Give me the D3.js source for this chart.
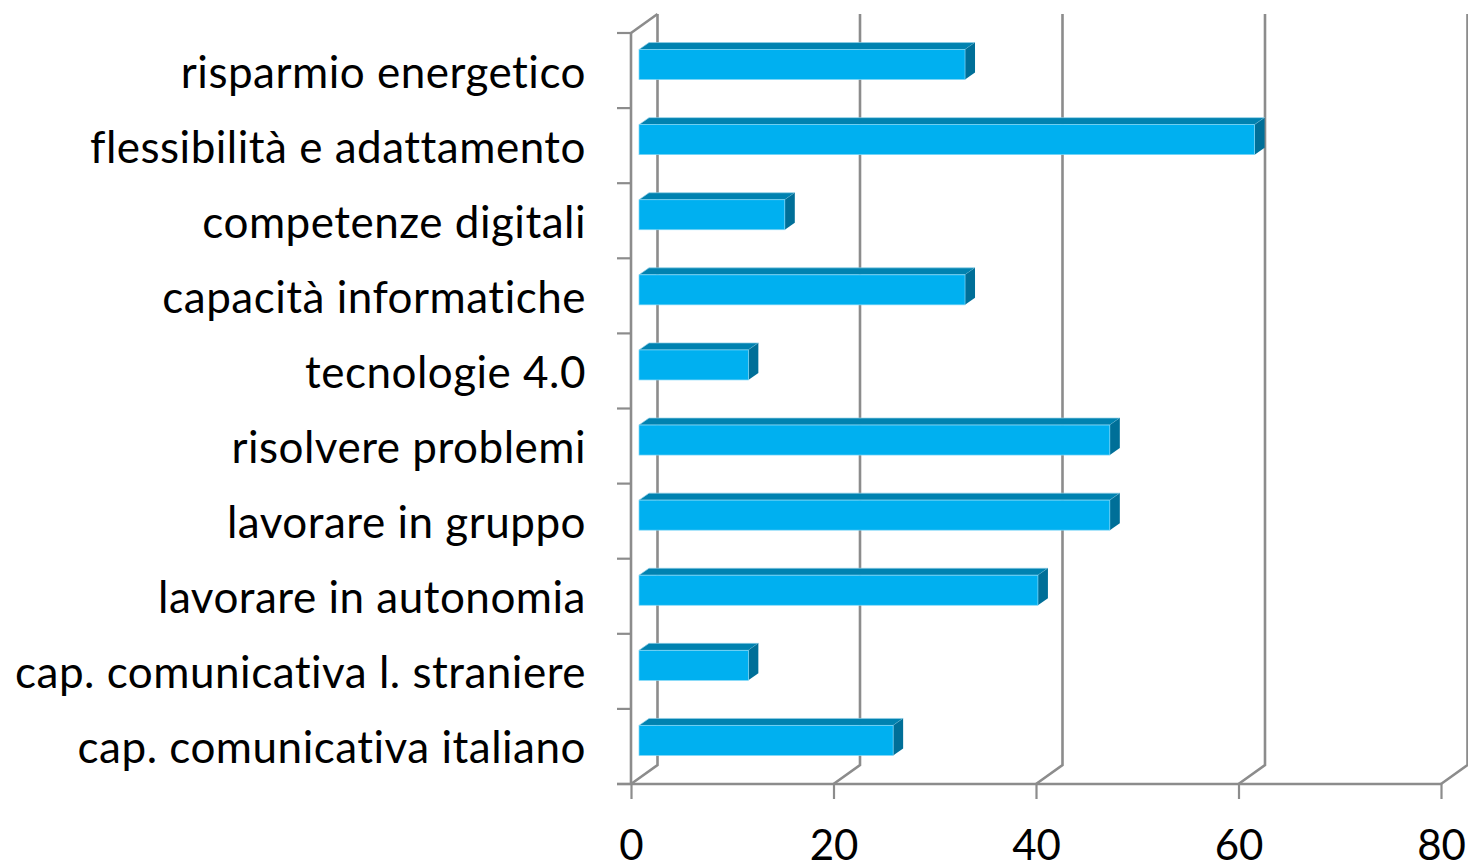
<!DOCTYPE html>
<html lang="it">
<head>
  <meta charset="UTF-8">
  <title>Competenze</title>
  <script src="https://d3js.org/d3.v7.min.js"></script>
  <style>
    html, body { margin: 0; padding: 0; background: #fff; }
    svg { display: block; }
    text { font-family: Lato, sans-serif; fill: #000; font-variant-ligatures: none; }
  </style>
</head>
<body>
  <div id="chart"></div>
  <script>
    // top to bottom, as in the picture
    const categories = [
      'risparmio energetico',
      'flessibilità e adattamento',
      'competenze digitali',
      'capacità informatiche',
      'tecnologie 4.0',
      'risolvere problemi',
      'lavorare in gruppo',
      'lavorare in autonomia',
      'cap. comunicativa l. straniere',
      'cap. comunicativa italiano'
    ]
    const values = [32.2, 60.8, 14.4, 32.2, 10.8, 46.5, 46.5, 39.4, 10.8, 25.1]
    const xTicks = [0, 20, 40, 60, 80]

    const width = 1468
    const height = 866
    const lineColor = '#8c8c8c'

    // fake 3d: back wall offset, bar position in the depth, bar depth
    const wall = { dx: 26.5, dy: -19 }
    const barOff = { dx: 8, dy: -6 }
    const barDepth = { dx: 10, dy: -7 }

    const x = d3.scaleLinear().domain([0, 80]).range([631, 1441])
    const y = d3.scaleBand().domain(categories).range([33, 784]).paddingInner(0).paddingOuter(0)

    const svg = d3.select('#chart').append('svg')
      .attr('width', width)
      .attr('height', height)

    // back wall gridlines
    const wallG = svg.append('g')
      .attr('fill', 'none')
      .attr('stroke', lineColor)
      .attr('stroke-width', 2.6)

    wallG.selectAll('path')
      .data(xTicks)
      .enter()
      .append('path')
      .attr('d', d => `M${x(d)},${y.range()[1]}L${x(d) + wall.dx},${y.range()[1] + wall.dy}V${y.range()[0] + wall.dy}`)

    wallG.append('path')
      .attr('d', `M${x(0)},${y.range()[0]}L${x(0) + wall.dx},${y.range()[0] + wall.dy}`)

    // category axis
    const yBreaks = categories.map(c => y(c)).concat(y.range()[1])
    svg.append('g')
      .selectAll('line')
      .data(yBreaks)
      .enter()
      .append('line')
      .attr('x1', x(0) - 14)
      .attr('x2', x(0))
      .attr('y1', d => d)
      .attr('y2', d => d)
      .attr('stroke', lineColor)
      .attr('stroke-width', 2.2)

    svg.append('line')
      .attr('x1', x(0))
      .attr('x2', x(0))
      .attr('y1', y.range()[0])
      .attr('y2', y.range()[1])
      .attr('stroke', lineColor)
      .attr('stroke-width', 2.6)

    svg.append('g')
      .selectAll('text')
      .data(categories)
      .enter()
      .append('text')
      .attr('x', 586)
      .attr('y', d => y(d) + y.bandwidth() / 2 + 17)
      .attr('text-anchor', 'end')
      .attr('font-size', 44)
      .attr('letter-spacing', 0.5)
      .text(d => d)

    // value axis
    const xAxis = d3.axisBottom(x)
      .tickValues(xTicks)
      .tickSize(15)
      .tickPadding(31)

    const xG = svg.append('g')
      .attr('transform', `translate(0,${y.range()[1]})`)
      .call(xAxis)

    xG.select('.domain').remove()
    xG.selectAll('.tick line').attr('stroke', lineColor).attr('stroke-width', 2.2)
    xG.selectAll('.tick text').attr('font-size', 42).attr('font-family', 'Lato, sans-serif').attr('fill', '#000')

    svg.append('line')
      .attr('x1', x(0) - 14)
      .attr('x2', x(80))
      .attr('y1', y.range()[1])
      .attr('y2', y.range()[1])
      .attr('stroke', lineColor)
      .attr('stroke-width', 2.6)

    // bars
    const barH = 30
    const bars = svg.append('g')
      .selectAll('g')
      .data(categories.map((c, i) => ({ c, v: values[i] })))
      .enter()
      .append('g')
      .attr('transform', d => `translate(${barOff.dx},${y(d.c) + (y.bandwidth() - barH) / 2 + barOff.dy})`)

    bars.append('path')
      .attr('fill', '#0082b0')
      .attr('stroke', '#8fcfe6')
      .attr('stroke-width', 0.7)
      .attr('d', d => `M${x(0)},0l${barDepth.dx},${barDepth.dy}H${x(d.v) + barDepth.dx}l${-barDepth.dx},${-barDepth.dy}Z`)

    bars.append('path')
      .attr('fill', '#006f98')
      .attr('d', d => `M${x(d.v)},0l${barDepth.dx},${barDepth.dy}v${barH}l${-barDepth.dx},${-barDepth.dy}Z`)

    bars.append('rect')
      .attr('x', x(0))
      .attr('y', 0)
      .attr('width', d => x(d.v) - x(0))
      .attr('height', barH)
      .attr('fill', '#00b0f0')
      .attr('stroke', '#7fd7f7')
      .attr('stroke-width', 0.7)
  </script>
</body>
</html>
